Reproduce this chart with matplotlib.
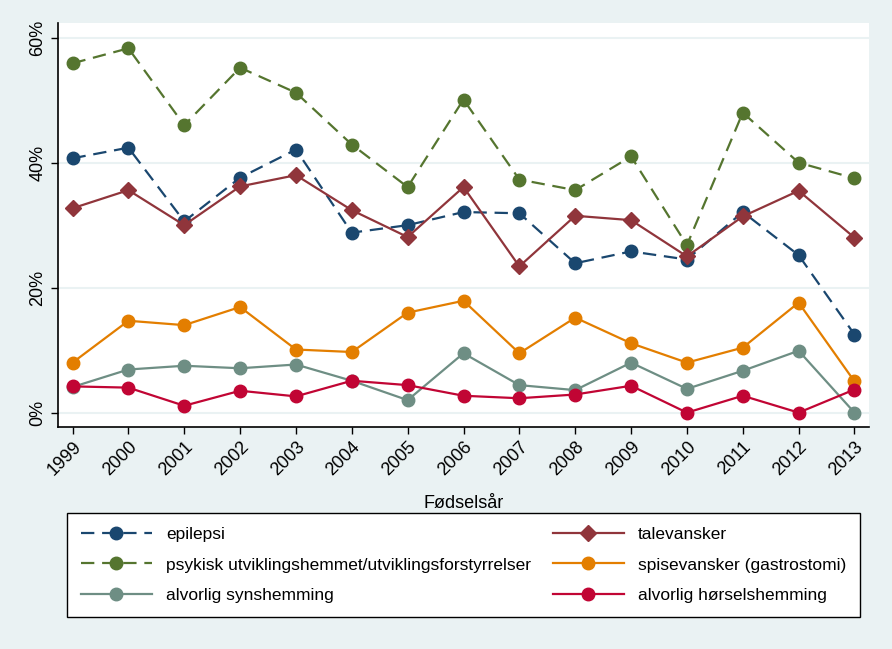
import matplotlib
matplotlib.use("Agg")
import matplotlib.pyplot as plt
from matplotlib.ticker import FuncFormatter

plt.rcParams['font.family'] = ['Liberation Sans', 'DejaVu Sans']

years = list(range(1999, 2014))

# andel (%) per fødselsår
epilepsi = [40.7, 42.4, 30.6, 37.6, 42.1, 28.8, 30.0, 32.1, 31.9, 23.9, 25.8, 24.5, 32.1, 25.2, 12.5]
psykisk = [55.9, 58.3, 46.0, 55.2, 51.2, 42.9, 36.1, 50.1, 37.3, 35.6, 41.0, 26.8, 48.0, 40.0, 37.5]
tale = [32.7, 35.6, 30.0, 36.2, 38.0, 32.4, 28.1, 36.1, 23.4, 31.5, 30.8, 25.0, 31.4, 35.5, 28.0]
spise = [8.0, 14.7, 14.0, 16.9, 10.1, 9.7, 16.0, 17.9, 9.5, 15.2, 11.1, 8.0, 10.4, 17.6, 5.0]
syn = [4.1, 6.9, 7.5, 7.1, 7.7, 5.1, 2.0, 9.5, 4.4, 3.6, 8.0, 3.8, 6.7, 9.9, 0.0]
horsel = [4.2, 4.0, 1.1, 3.5, 2.6, 5.1, 4.4, 2.7, 2.3, 2.9, 4.3, 0.0, 2.7, 0.0, 3.7]

bg = '#eaf2f3'
fig = plt.figure(figsize=(8.92, 6.49), dpi=100, facecolor=bg)
ax = fig.add_axes([58 / 892, 1 - 427 / 649, (869 - 58) / 892, (427 - 23) / 649])
ax.set_facecolor('white')

dash = (6, 3.5)
l1, = ax.plot(years, epilepsi, color='#1a476f', lw=1.6, ls=(0, dash), marker='o', ms=9,
              label='epilepsi')
l2, = ax.plot(years, psykisk, color='#55752f', lw=1.6, ls=(0, dash), marker='o', ms=9,
              label='psykisk utviklingshemmet/utviklingsforstyrrelser')
l3, = ax.plot(years, syn, color='#6e8e84', lw=1.6, marker='o', ms=9,
              label='alvorlig synshemming')
l4, = ax.plot(years, tale, color='#90353b', lw=1.6, marker='D', ms=8,
              label='talevansker')
l5, = ax.plot(years, spise, color='#e37e00', lw=1.6, marker='o', ms=9,
              label='spisevansker (gastrostomi)')
l6, = ax.plot(years, horsel, color='#c10534', lw=1.6, marker='o', ms=9,
              label='alvorlig hørselshemming')

ax.set_xlim(1998.74, 2013.26)
ax.set_ylim(-2.3, 62.35)
ax.set_yticks([0, 20, 40, 60])
ax.yaxis.set_major_formatter(FuncFormatter(lambda v, p: '%d%%' % v))
ax.set_xticks(years)
ax.set_xticklabels([str(y) for y in years], rotation=45, ha='right', rotation_mode='anchor')
for t in ax.get_yticklabels():
    t.set_rotation(90)
    t.set_va('center')
ax.tick_params(axis='both', labelsize=13, length=5, width=1, color='black')
ax.tick_params(axis='x', pad=3)

ax.grid(axis='y', color=bg, lw=1.5)
ax.set_axisbelow(True)
for s in ['top', 'right']:
    ax.spines[s].set_visible(False)
ax.spines['left'].set_linewidth(1.2)
ax.spines['bottom'].set_linewidth(1.2)

ax.set_xlabel('Fødselsår', fontsize=13, labelpad=12)

leg = fig.legend(handles=[l1, l2, l3, l4, l5, l6], ncol=2, mode='expand', loc='center',
                 bbox_to_anchor=(67 / 892, 1 - 617 / 649, (860 - 67) / 892, (617 - 513) / 649),
                 fontsize=12.5, handlelength=4.1, frameon=True, fancybox=False,
                 edgecolor='black', facecolor='white', framealpha=1,
                 borderpad=0.8, labelspacing=0.9, handletextpad=0.8, borderaxespad=0)
leg.get_frame().set_linewidth(1.0)

fig.savefig('out.png', dpi=100, facecolor=bg)
